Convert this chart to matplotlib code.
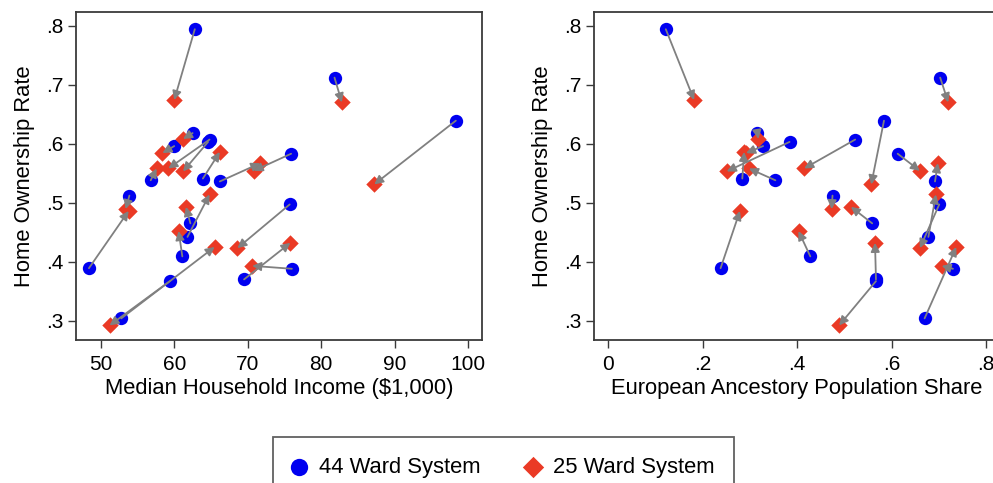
import matplotlib
matplotlib.use("Agg")
import matplotlib.pyplot as plt
from matplotlib.ticker import FuncFormatter

plt.rcParams["font.family"] = ["Liberation Sans", "DejaVu Sans"]

# home ownership rate under each ward system (one entry per ward)
own_44 = [0.794, 0.712, 0.639, 0.618, 0.607, 0.603, 0.596, 0.541, 0.538, 0.583, 0.536,
          0.512, 0.389, 0.442, 0.465, 0.409, 0.497, 0.367, 0.304, 0.388, 0.370]
own_25 = [0.674, 0.670, 0.531, 0.608, 0.558, 0.553, 0.584, 0.586, 0.558, 0.554, 0.567,
          0.489, 0.486, 0.514, 0.493, 0.452, 0.423, 0.292, 0.425, 0.393, 0.432]

# median household income ($1,000)
inc_44 = [62.8, 81.8, 98.3, 62.5, 64.8, 64.6, 60.0, 63.9, 56.8, 75.9, 66.2,
          53.9, 48.4, 61.8, 62.2, 61.1, 75.7, 59.4, 52.8, 76.0, 69.5]
inc_25 = [60.0, 82.8, 87.2, 61.2, 59.2, 61.2, 58.4, 66.2, 57.6, 70.8, 71.7,
          53.4, 53.8, 64.8, 61.6, 60.6, 68.6, 51.2, 65.5, 70.6, 75.8]

# european ancestry population share
eur_44 = [0.122, 0.703, 0.584, 0.316, 0.523, 0.384, 0.328, 0.284, 0.354, 0.613, 0.692,
          0.475, 0.238, 0.678, 0.559, 0.428, 0.701, 0.567, 0.670, 0.730, 0.567]
eur_25 = [0.182, 0.720, 0.557, 0.318, 0.415, 0.251, 0.292, 0.288, 0.298, 0.660, 0.698,
          0.473, 0.279, 0.694, 0.514, 0.403, 0.660, 0.489, 0.737, 0.706, 0.565]

inc_ticks = [50, 60, 70, 80, 90, 100]
eur_ticks = [0, 0.2, 0.4, 0.6, 0.8]
own_ticks = [0.3, 0.4, 0.5, 0.6, 0.7, 0.8]

BLUE = "#0000f0"
RED = "#ea3a25"
GRAY = "#808080"
FRAME = "#3a3a3a"
FS = 15
FS_LABEL = 15.8


def strip_zero(v, pos=None):
    s = f"{v:.1f}"
    if s == "0.0":
        return "0"
    return s.lstrip("0")


def panel(ax, x44, x25, xlabel, xticks, xlim, xfmt):
    ax.scatter(x44, own_44, s=92, marker="o", color=BLUE, linewidths=0,
               zorder=2, label="44 Ward System")
    ax.scatter(x25, own_25, s=70, marker="D", color=RED, linewidths=0,
               zorder=2, label="25 Ward System")
    for xa, ya, xb, yb in zip(x44, own_44, x25, own_25):
        ax.annotate("", xy=(xb, yb), xytext=(xa, ya),
                    arrowprops=dict(arrowstyle="-|>", color=GRAY, lw=1.3,
                                    shrinkA=0, shrinkB=0, mutation_scale=13),
                    zorder=3)
    ax.set_xlim(*xlim)
    ax.set_ylim(0.2673, 0.8232)
    ax.set_xticks(xticks)
    ax.set_yticks(own_ticks)
    if xfmt:
        ax.xaxis.set_major_formatter(FuncFormatter(strip_zero))
    ax.yaxis.set_major_formatter(FuncFormatter(strip_zero))
    ax.set_xlabel(xlabel, fontsize=FS_LABEL, labelpad=3)
    ax.set_ylabel("Home Ownership Rate", fontsize=FS_LABEL, labelpad=8)
    ax.tick_params(axis="both", labelsize=FS, length=6, width=1.0, color=FRAME,
                   direction="out")
    ax.tick_params(axis="x", pad=5)
    ax.tick_params(axis="y", pad=3)
    for sp in ax.spines.values():
        sp.set_color(FRAME)
        sp.set_linewidth(1.3)


fig = plt.figure(figsize=(9.93, 4.83), dpi=100)
bottom = (483 - 340) / 483
height = (340 - 12) / 483
ax1 = fig.add_axes([76 / 993, bottom, 405.7 / 993, height])
ax2 = fig.add_axes([594 / 993, bottom, 405.7 / 993, height])

panel(ax1, inc_44, inc_25, "Median Household Income ($1,000)", inc_ticks,
      (46.64, 101.82), False)
panel(ax2, eur_44, eur_25, "European Ancestory Population Share", eur_ticks,
      (-0.030, 0.829), True)

handles, labels = ax1.get_legend_handles_labels()
leg = fig.legend(handles, labels, loc="center", ncol=2,
                 bbox_to_anchor=(503.5 / 993, 1 - 467 / 483),
                 fontsize=FS_LABEL, frameon=True, fancybox=False, borderpad=0.9,
                 handlelength=0.6, handletextpad=0.6, columnspacing=2.1,
                 markerscale=1.3)
leg.get_frame().set_edgecolor(FRAME)
leg.get_frame().set_linewidth(1.3)

fig.savefig("out.png", dpi=100)
